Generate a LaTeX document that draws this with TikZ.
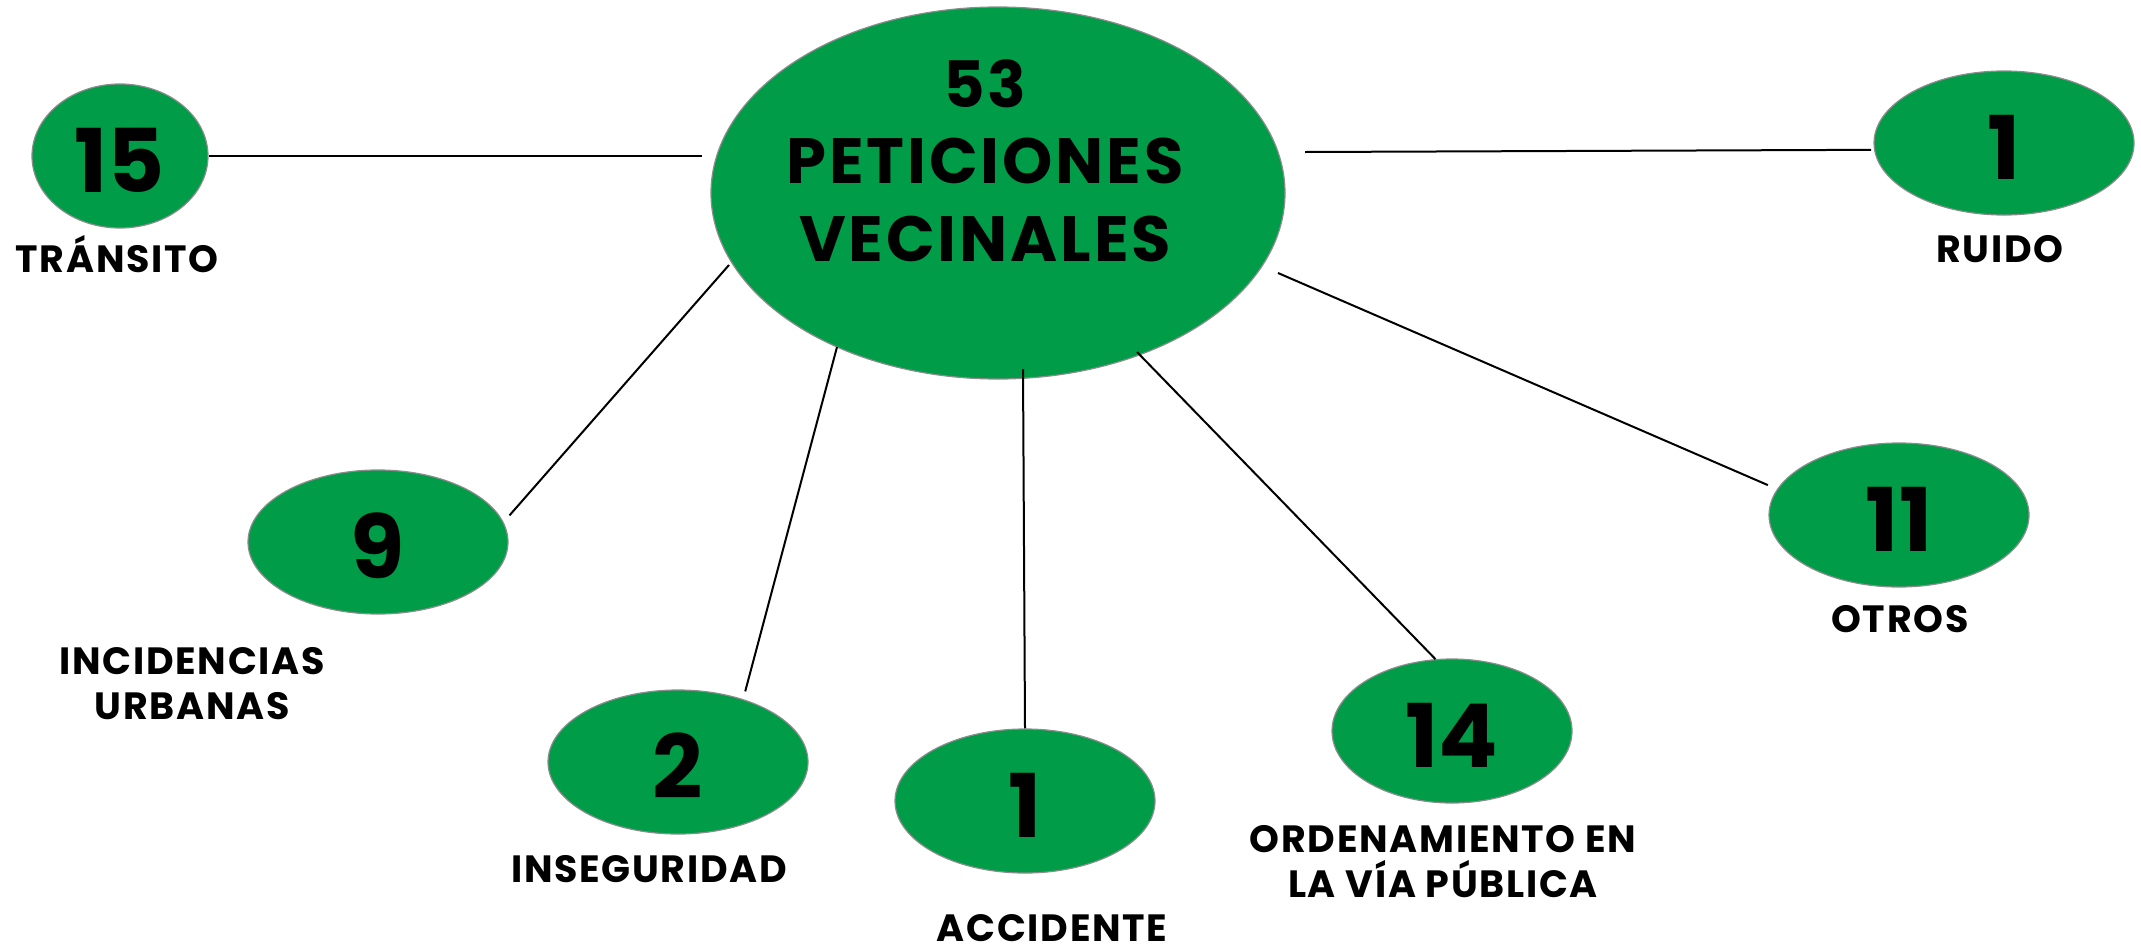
\documentclass[tikz,border=0pt]{standalone}
\usepackage{fontspec}
\setmainfont{Poppins}
\newfontfamily\spacedfont{Poppins}[LetterSpace=4.5]
\usetikzlibrary{shapes.geometric}
\definecolor{vgreen}{RGB}{0,156,72}
\definecolor{vrim}{RGB}{140,140,140}
\begin{document}
\begin{tikzpicture}[x=1pt,y=-1pt,
  bubble/.style={ellipse, fill=vgreen, draw=vrim, line width=1.2pt, inner sep=0pt,
    minimum width=260pt, minimum height=144pt,
    font=\fontsize{88}{88}\selectfont\bfseries, text height=72pt, text depth=0pt},
  lbl/.style={anchor=base, font=\spacedfont\fontsize{38}{38}\selectfont\bfseries, inner sep=0pt},
  ctext/.style={anchor=base, font=\spacedfont\fontsize{64}{64}\selectfont\bfseries, inner sep=0pt},
  link/.style={draw=black, line width=2pt}]
\useasboundingbox (0,0) rectangle (2141,951);

% central
\node[bubble, minimum width=574pt, minimum height=372pt] (c) at (998,193) {};
\node[ctext] (c1) at (985,107) {53};
\node[ctext] (c2) at (985,183) {PETICIONES};
\node[ctext] (c3) at (985,261) {VECINALES};

% satellites
\node[bubble, minimum width=176pt] (n15) at (120,156) {15};
\node[bubble] (nR) at (2004,143) {1};
\node[bubble] (n9) at (378,542) {9};
\node[bubble] (n2) at (678,762) {2};
\node[bubble] (nA) at (1025,801) {1};
\node[bubble, minimum width=240pt] (n14) at (1452,731) {14};
\node[bubble] (n11) at (1899,515) {11};

% labels
\node[lbl] (l15) at (117,272) {TRÁNSITO};
\node[lbl] (lR) at (2000,262) {RUIDO};
\node[lbl] (l9a) at (192,674) {INCIDENCIAS};
\node[lbl] (l9b) at (192,719) {URBANAS};
\node[lbl] (l2) at (649,882) {INSEGURIDAD};
\node[lbl] (lA) at (1052,941) {ACCIDENTE};
\node[lbl] (l14a) at (1443,852) {ORDENAMIENTO EN};
\node[lbl] (l14b) at (1443,897) {LA VÍA PÚBLICA};
\node[lbl] (l11) at (1900,632) {OTROS};

% free ends near the central bubble
\coordinate (t15) at (702,156);
\coordinate (tR) at (1305,152);
\coordinate (t9) at (729,265);
\coordinate (t2) at (837,347);
\coordinate (tA) at (1023,369);
\coordinate (t14) at (1137,352);
\coordinate (t11) at (1278,273);

% connectors
\draw[link] (n15.east) -- (t15);
\draw[link, shorten <=3pt] (nR.183) -- (tR);
\draw[link, shorten <=9pt] (n9.9) -- (t9);
\draw[link, shorten <=8pt] (n2.44) -- (t2);
\draw[link] (nA.north) -- (tA);
\draw[link] (n14.103) -- (t14);
\draw[link, shorten <=10pt] (n11.168) -- (t11);
\end{tikzpicture}
\end{document}
